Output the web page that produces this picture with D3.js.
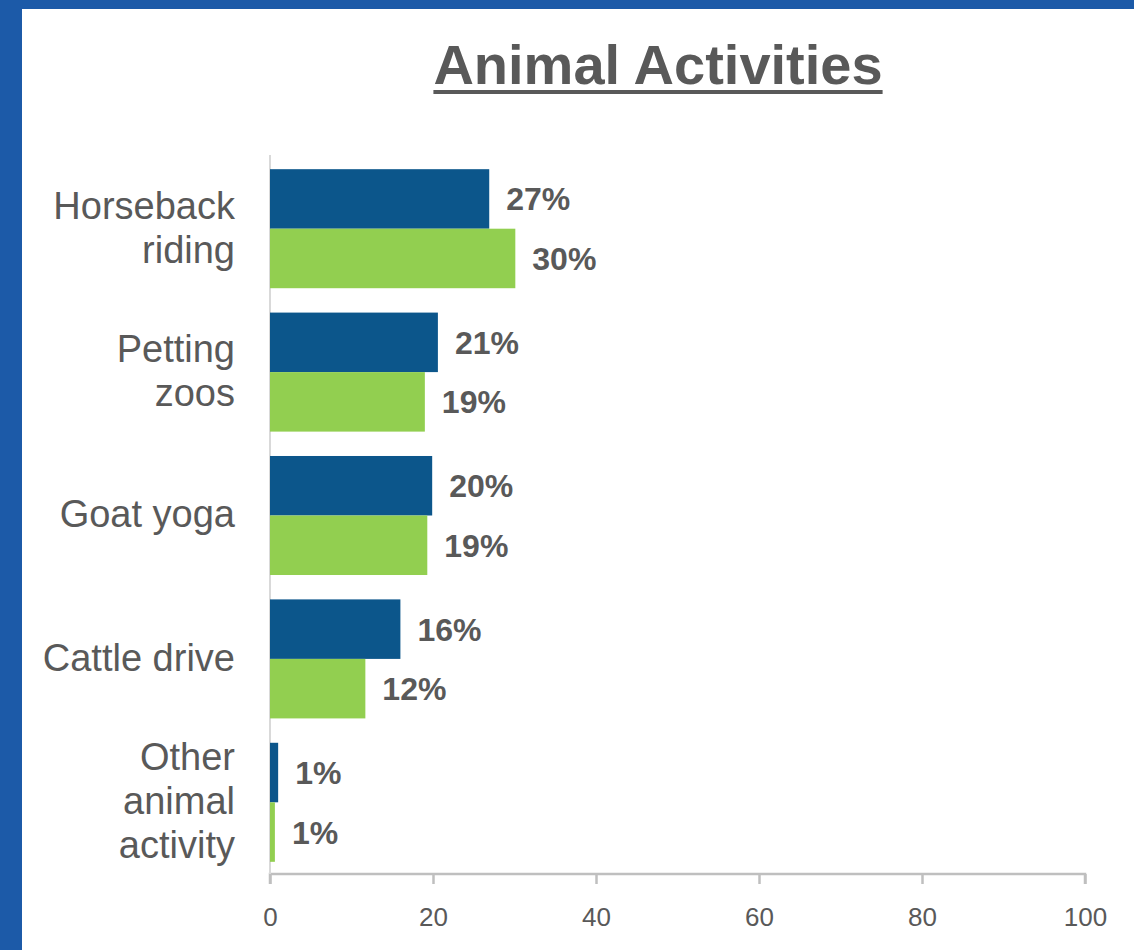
<!DOCTYPE html>
<html>
<head>
  <meta charset="utf-8">
  <title>Animal Activities</title>
  <script src="https://d3js.org/d3.v7.min.js"></script>
  <style>
    body { margin: 0; background: #1c5aa8; }
    svg { display: block; }
    text { font-family: "Liberation Sans", Arial, sans-serif; }
  </style>
</head>
<body>
<script>
  // data
  const categories = [["Horseback", "riding"], ["Petting", "zoos"], ["Goat yoga"], ["Cattle drive"], ["Other", "animal", "activity"]];
  const seriesA = [26.9, 20.6, 19.9, 16.0, 1.0];   // dark blue
  const seriesB = [30.1, 19.0, 19.3, 11.7, 0.6];   // green
  const labelsA = ["27%", "21%", "20%", "16%", "1%"];
  const labelsB = ["30%", "19%", "19%", "12%", "1%"];
  const xTicks = [0, 20, 40, 60, 80, 100];

  const W = 1134, H = 950;
  const grey = "#595959";

  const svg = d3.select("body").append("svg")
    .attr("width", W)
    .attr("height", H);

  // white panel inside the blue frame
  svg.append("rect")
    .attr("x", 22).attr("y", 9)
    .attr("width", W - 22).attr("height", H - 9)
    .attr("fill", "white");

  var x = d3.scaleLinear()
    .domain([0, 100])
    .range([270, 1085]);

  var y = d3.scaleBand()
    .domain(d3.range(categories.length))
    .range([157, 874])
    .paddingInner(0.17)
    .paddingOuter(0.085);

  var sub = d3.scaleBand()
    .domain(["a", "b"])
    .range([0, y.bandwidth()]);

  // title + underline
  const title = svg.append("text")
    .attr("x", 658).attr("y", 84)
    .attr("text-anchor", "middle")
    .attr("fill", grey)
    .style("font-size", "56px")
    .style("font-weight", "bold")
    .text("Animal Activities");
  const tb = title.node().getBBox();
  svg.append("line")
    .attr("x1", tb.x).attr("x2", tb.x + tb.width)
    .attr("y1", 92).attr("y2", 92)
    .attr("stroke", grey)
    .attr("stroke-width", 4);

  // x axis
  const xAxis = svg.append("g")
    .attr("transform", "translate(0,874)")
    .call(d3.axisBottom(x).tickValues(xTicks).tickSize(10).tickPadding(24));
  xAxis.select(".domain").attr("stroke", "#bfbfbf").attr("stroke-width", 2.5)
    .attr("d", `M${x(0)},10V0H${x(100)}V10`);
  xAxis.selectAll(".tick line").attr("stroke", "#bfbfbf").attr("stroke-width", 2.5);
  xAxis.selectAll(".tick text")
    .attr("fill", grey)
    .style("font-size", "26px")
    .style("font-family", "'Liberation Sans', Arial, sans-serif");

  // vertical axis line
  svg.append("line")
    .attr("x1", x(0)).attr("x2", x(0))
    .attr("y1", 155).attr("y2", 874)
    .attr("stroke", "#d9d9d9")
    .attr("stroke-width", 2);

  const g = svg.append("g")
    .selectAll("g")
    .data(categories)
    .join("g")
      .attr("transform", (d, i) => `translate(0,${y(i)})`);

  // category labels
  g.append("text")
    .attr("text-anchor", "end")
    .attr("fill", grey)
    .style("font-size", "38px")
    .each(function(d) {
      const t = d3.select(this);
      const lh = 44;
      const first = y.bandwidth() / 2 - (d.length - 1) * lh / 2 + 12;
      d.forEach((line, k) => {
        t.append("tspan").attr("x", 235).attr("y", first + k * lh).text(line);
      });
    });

  // bars
  g.append("rect")
    .attr("x", x(0))
    .attr("y", sub("a"))
    .attr("height", sub.bandwidth())
    .attr("width", (d, i) => x(seriesA[i]) - x(0))
    .attr("fill", "#0c568b");

  g.append("rect")
    .attr("x", x(0))
    .attr("y", sub("b"))
    .attr("height", sub.bandwidth())
    .attr("width", (d, i) => x(seriesB[i]) - x(0))
    .attr("fill", "#92cf50");

  // value labels
  g.append("text")
    .attr("x", (d, i) => x(seriesA[i]) + 17)
    .attr("y", sub("a") + sub.bandwidth() / 2)
    .attr("dy", "0.36em")
    .attr("fill", grey)
    .style("font-size", "32px")
    .style("font-weight", "bold")
    .text((d, i) => labelsA[i]);

  g.append("text")
    .attr("x", (d, i) => x(seriesB[i]) + 17)
    .attr("y", sub("b") + sub.bandwidth() / 2)
    .attr("dy", "0.36em")
    .attr("fill", grey)
    .style("font-size", "32px")
    .style("font-weight", "bold")
    .text((d, i) => labelsB[i]);
</script>
</body>
</html>
